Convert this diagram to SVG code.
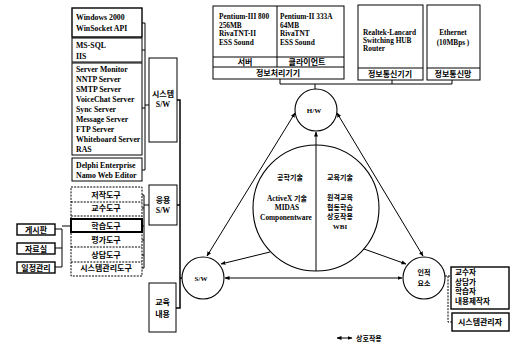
<svg xmlns="http://www.w3.org/2000/svg" width="511" height="344" viewBox="0 0 511 344">
<style>
.bx{fill:#fff;stroke:#000;stroke-width:1}
.bk{fill:#fff;stroke:#000;stroke-width:1.4}
.dl{fill:none;stroke:#000;stroke-width:1;stroke-dasharray:2 1.2}
.ln{fill:none;stroke:#000;stroke-width:1}
.ci{fill:#fff;stroke:#000;stroke-width:1.1}
.en{font-family:"Liberation Serif",serif;font-weight:bold;font-size:7.8px;fill:#000}
.ts{font-size:7.3px}
.ko{font-family:"Noto Sans CJK KR",sans-serif;font-weight:bold;font-size:8px;fill:#000}
.sm{font-size:7px}
.pp{font-size:7.6px}
.c{text-anchor:middle}
</style>
<defs>
<marker id="ah" viewBox="0 0 10 10" refX="9" refY="5" markerWidth="5" markerHeight="5" orient="auto-start-reverse"><path d="M0,1 L10,5 L0,9 z" fill="#000"/></marker>
</defs>
<rect width="511" height="344" fill="#fff"/>

<g id="connectors">
<path class="ln" d="M142,23 H145 V170 H142 M142,50 H145 M142,108 H145 M145,105 H149"/>
<path class="ln" style="stroke-width:1.5" d="M177,100 H180 V308 H176 M177,205 H180 M180,278 H182"/>
<path class="ln" d="M142,195 H144 V268 H142 M142,208 H144 M142,226 H144 M142,240 H144 M142,255 H144 M144,205 H149"/>
<path class="ln" d="M55,229 H62 V267 H55 M55,248 H62 M62,226 H71"/>
<path class="ln" d="M280,79 V84 H452 V80 M392,80 V84 M315,84 V89"/>
<path class="ln" d="M316,271 V132" marker-end="url(#ah)"/>
<path class="ln" d="M295,113 L207,256" marker-start="url(#ah)" marker-end="url(#ah)"/>
<path class="ln" d="M337,113 L423,256" marker-start="url(#ah)" marker-end="url(#ah)"/>
<path class="ln" d="M225,278 L402,278" marker-start="url(#ah)" marker-end="url(#ah)"/>
<path class="ln" d="M270,252 L221,264" marker-end="url(#ah)"/>
<path class="ln" d="M364,249 L406,264" marker-end="url(#ah)"/>
<path class="dl" d="M445,276 H448 V322 H452 M448,276 H451"/>
</g>

<g id="n-windows"><rect class="bk" x="72" y="8" width="70" height="29"/>
<text class="en" x="76" y="20">Windows 2000</text><text class="en" x="76" y="31">WinSocket API</text></g>
<g id="n-mssql"><rect class="bx" x="72" y="38" width="70" height="24"/>
<text class="en" x="76" y="48">MS-SQL</text><text class="en" x="76" y="59">IIS</text></g>
<g id="n-servers"><rect class="bx" x="72" y="63" width="70" height="92"/>
<text class="en" x="76" y="71.5">Server Monitor</text>
<text class="en" x="76" y="81.5">NNTP Server</text>
<text class="en" x="76" y="91.5">SMTP Server</text>
<text class="en" x="76" y="101.5">VoiceChat Server</text>
<text class="en" x="76" y="111.5">Sync Server</text>
<text class="en" x="76" y="121.5">Message Server</text>
<text class="en" x="76" y="131.5">FTP Server</text>
<text class="en" x="76" y="141.5">Whiteboard Server</text>
<text class="en" x="76" y="151.5">RAS</text></g>
<g id="n-delphi"><rect class="bx" x="72" y="158" width="70" height="23"/>
<text class="en" x="76" y="168">Delphi Enterprise</text><text class="en" x="76" y="178">Namo Web Editor</text></g>

<g id="n-syssw"><rect class="bx" x="149" y="58" width="28" height="84"/>
<text class="ko c" x="163" y="97">시스템</text><text class="en c" x="163" y="107">S/W</text></g>
<g id="n-appsw"><rect class="bx" x="149" y="185" width="28" height="40"/>
<text class="ko c" x="163" y="203">응용</text><text class="en c" x="163" y="213">S/W</text></g>
<g id="n-content"><rect class="bx" x="149" y="283" width="27" height="49"/>
<text class="ko c" x="162.5" y="305">교육</text><text class="ko c" x="162.5" y="317">내용</text></g>

<g id="n-tools">
<rect class="dl" x="71" y="187" width="71" height="89"/>
<path class="dl" d="M71,202 H142 M71,216 H142 M71,247 H142 M71,262 H142"/>
<rect class="bx" style="stroke-width:2" x="71" y="219" width="71" height="13"/>
<text class="ko c" x="106" y="198">저작도구</text>
<text class="ko c" x="106" y="211">교수도구</text>
<text class="ko c" x="106" y="229">학습도구</text>
<text class="ko c" x="106" y="243">평가도구</text>
<text class="ko c" x="106" y="258">상담도구</text>
<text class="ko c" x="106" y="271">시스템관리도구</text>
</g>

<g id="n-board"><rect class="bk" x="17" y="224" width="38" height="11"/><text class="ko c" x="36" y="232.5">게시판</text></g>
<g id="n-archive"><rect class="bk" x="17" y="243" width="38" height="11"/><text class="ko c" x="36" y="251.5">자료실</text></g>
<g id="n-schedule"><rect class="bk" x="17" y="262" width="38" height="11"/><text class="ko c" x="36" y="270.5">일정관리</text></g>

<g id="n-infoproc"><rect class="bx" x="213" y="6" width="131" height="73"/>
<path class="ln" d="M277,6 V67 M213,57 H344 M213,67 H344"/>
<text class="en ts" x="219" y="19">Pentium-III 800</text>
<text class="en ts" x="219" y="27.5">256MB</text>
<text class="en ts" x="219" y="36">RivaTNT-II</text>
<text class="en ts" x="219" y="44.5">ESS Sound</text>
<text class="en ts" x="280" y="19">Pentium-II 333A</text>
<text class="en ts" x="280" y="27.5">64MB</text>
<text class="en ts" x="280" y="36">RivaTNT</text>
<text class="en ts" x="280" y="44.5">ESS Sound</text>
<text class="ko c" x="245" y="65">서버</text>
<text class="ko c" x="307" y="65">클라이언트</text>
<text class="ko c" x="278" y="76">정보처리기기</text></g>
<g id="n-infocomm"><rect class="bx" x="358" y="5" width="65" height="75"/>
<path class="ln" d="M358,68 H423"/>
<text class="en ts" x="363" y="35">Realtek-Lancard</text>
<text class="en ts" x="363" y="43">Switching HUB</text>
<text class="en ts" x="363" y="51">Router</text>
<text class="ko c" x="390" y="77">정보통신기기</text></g>
<g id="n-network"><rect class="bx" x="427" y="5" width="53" height="75"/>
<path class="ln" d="M427,68 H480"/>
<text class="en ts c" x="453" y="35">Ethernet</text>
<text class="en ts c" x="453" y="45">(10MBps )</text>
<text class="ko c" x="453" y="77">정보통신망</text></g>

<g id="n-hw"><circle class="ci" cx="316" cy="110" r="21"/><text class="en sm c" x="314" y="113">H/W</text></g>
<g id="n-tech"><circle class="ci" cx="316" cy="208" r="63"/>
<path class="ln" d="M316,145 V271"/>
<text class="ko sm c" x="290" y="180">공학기술</text>
<text class="en ts c" x="287" y="201">ActiveX <tspan class="ko sm">기술</tspan></text>
<text class="en ts c" x="287" y="210">MIDAS</text>
<text class="en ts c" x="286" y="220">Componentware</text>
<text class="ko sm c" x="340" y="180">교육기술</text>
<text class="ko sm c" x="340" y="200">원격교육</text>
<text class="ko sm c" x="340" y="210">협동학습</text>
<text class="ko sm c" x="340" y="219">상호작용</text>
<text class="en sm c" x="340" y="229">WBI</text></g>
<g id="n-sw"><circle class="ci" cx="203" cy="278" r="21"/><text class="en sm c" x="201" y="281">S/W</text></g>
<g id="n-human"><circle class="ci" cx="424" cy="278" r="21"/>
<text class="ko sm c" x="424" y="275">인적</text><text class="ko sm c" x="424" y="286">요소</text></g>

<g id="n-people"><rect class="bk" x="451" y="267" width="58" height="42"/>
<text class="ko pp" x="455" y="275">교수자</text>
<text class="ko pp" x="455" y="284.5">상담가</text>
<text class="ko pp" x="455" y="294">학습자</text>
<text class="ko pp" x="455" y="303.5">내용제작자</text></g>
<g id="n-admin"><rect class="bk" x="452" y="313" width="57" height="18"/>
<text class="ko c" x="480" y="325">시스템관리자</text></g>

<g id="legend">
<path class="ln" d="M337,338 H352" marker-start="url(#ah)" marker-end="url(#ah)"/>
<text class="ko sm" x="356" y="341">상호작용</text></g>
</svg>
